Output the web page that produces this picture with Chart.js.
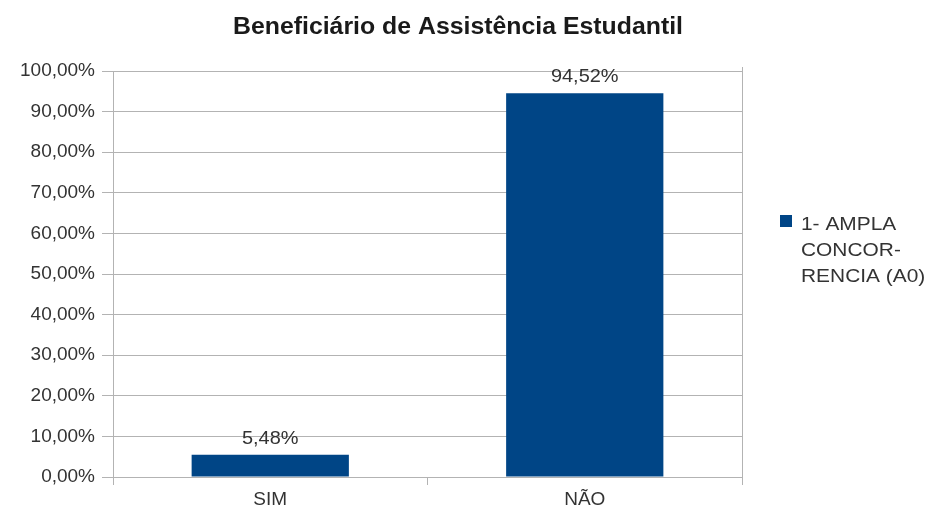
<!DOCTYPE html>
<html>
<head>
<meta charset="utf-8">
<script src="https://cdn.jsdelivr.net/npm/chart.js@4/dist/chart.umd.min.js"></script>
<style>
  html, body { margin: 0; padding: 0; background: #ffffff; }
  #wrap { width: 927px; height: 512px; position: relative; }
</style>
</head>
<body>
<div id="wrap"><canvas id="c"></canvas></div>
<script>
// Chart content
const chartTitle = 'Beneficiário de Assistência Estudantil';
const categories = ['SIM', 'NÃO'];
const seriesName = '1- AMPLA CONCORRENCIA (A0)';
const legendLines = ['1- AMPLA', 'CONCOR-', 'RENCIA (A0)'];
const seriesValues = [5.48, 94.52];
const yTickValues = [0, 10, 20, 30, 40, 50, 60, 70, 80, 90, 100];

const BAR_COLOR = '#004586';
const GRID_COLOR = '#b3b3b3';
const FONT = '"Liberation Sans", Arial, sans-serif';

const fmtPct = v => v.toFixed(2).replace('.', ',') + '%';

// Draws text slightly widened horizontally around its anchor point
function wideText(ctx, text, x, y, sx) {
  ctx.save();
  ctx.translate(x, y);
  ctx.scale(sx, 1);
  ctx.fillText(text, 0, 0);
  ctx.restore();
}

// Title, value labels, legend and the right-hand frame line
const decorations = {
  id: 'decorations',
  afterDraw(chart) {
    const ctx = chart.ctx;
    const area = chart.chartArea;
    ctx.save();

    // right frame line
    ctx.strokeStyle = GRID_COLOR;
    ctx.lineWidth = 1;
    ctx.beginPath();
    ctx.moveTo(Math.round(area.right) + 0.5, area.top - 4);
    ctx.lineTo(Math.round(area.right) + 0.5, area.bottom + 8);
    ctx.stroke();

    // title
    ctx.fillStyle = '#1a1a1a';
    ctx.font = 'bold 23px ' + FONT;
    ctx.textAlign = 'center';
    ctx.textBaseline = 'middle';
    wideText(ctx, chartTitle, 458, 28, 1.08);

    // value labels above bars
    const meta = chart.getDatasetMeta(0);
    ctx.font = '19px ' + FONT;
    ctx.fillStyle = '#333333';
    ctx.textBaseline = 'alphabetic';
    meta.data.forEach((bar, i) => {
      const v = chart.data.datasets[0].data[i];
      wideText(ctx, fmtPct(v), bar.x, bar.y - 11, 1.05);
    });

    // legend
    const lx = area.right + 38;
    const ly = 215;
    ctx.fillStyle = chart.data.datasets[0].backgroundColor;
    ctx.fillRect(lx, ly, 12, 12);
    ctx.fillStyle = '#333333';
    ctx.font = '19px ' + FONT;
    ctx.textAlign = 'left';
    ctx.textBaseline = 'middle';
    legendLines.forEach((line, i) => {
      wideText(ctx, line, lx + 21, ly + 10 + i * 26, 1.1);
    });

    ctx.restore();
  }
};

new Chart(document.getElementById('c'), {
  type: 'bar',
  data: {
    labels: categories,
    datasets: [{
      label: seriesName,
      data: seriesValues,
      backgroundColor: BAR_COLOR,
      borderWidth: 0,
      barPercentage: 0.5,
      categoryPercentage: 1.0
    }]
  },
  options: {
    responsive: true,
    maintainAspectRatio: false,
    animation: false,
    layout: { padding: { top: 71, right: 185, bottom: 0, left: 0 } },
    plugins: {
      legend: { display: false },
      title: { display: false },
      tooltip: { enabled: false }
    },
    scales: {
      x: {
        offset: true,
        grid: {
          offset: true,
          drawOnChartArea: false,
          drawTicks: true,
          tickLength: 8,
          color: GRID_COLOR
        },
        border: { color: GRID_COLOR },
        ticks: {
          color: '#333333',
          font: { family: FONT, size: 19 },
          padding: 3
        },
        afterFit(scale) { scale.height = 35; }
      },
      y: {
        min: 0,
        max: 100,
        afterBuildTicks(scale) {
          scale.ticks = yTickValues.map(v => ({ value: v }));
        },
        grid: {
          color: GRID_COLOR,
          tickLength: 11,
          drawTicks: true
        },
        border: { color: GRID_COLOR },
        ticks: {
          color: '#333333',
          font: { family: FONT, size: 19 },
          padding: 7,
          callback: v => fmtPct(v)
        },
        afterFit(scale) { scale.width = 113; }
      }
    }
  },
  plugins: [decorations]
});
</script>
</body>
</html>
